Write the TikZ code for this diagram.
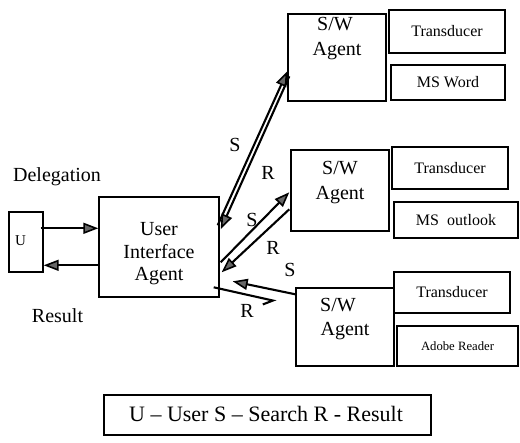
\documentclass[tikz,border=0pt]{standalone}
\usepackage{fontspec}
\setmainfont{Liberation Serif}
\usetikzlibrary{arrows.meta,calc}
\begin{document}
\begin{tikzpicture}[x=1pt,y=-1pt,
  box/.style={draw, line width=1.4pt, inner sep=0pt},
  conn/.style={line width=2.1pt},
  tipped/.style={conn, -{Triangle[length=15pt,width=11pt,fill=gray!80!black,line width=1.6pt]}},
  barbed/.style={conn, -{Straight Barb[length=9pt,width=12pt,right]}},
  big/.style={font=\fontsize{20}{22.5}\selectfont, align=center, inner sep=0pt},
  appfont/.style={font=\fontsize{16}{18}\selectfont},
]
\fill[white] (0,0) rectangle (520,443);
\useasboundingbox (0,0) rectangle (520,443);

% user and interface agent
\node[box, minimum width=34pt, minimum height=60pt] (u) at (26,242) {};
\node[inner sep=0pt, font=\fontsize{15}{17}\selectfont] (utext) at (20.5,241) {U};
\node[box, minimum width=120pt, minimum height=100pt] (uia) at (159,247) {};
\node[big] (uiatext) at (159,254) {User\\Interface\\Agent};

% software agents
\node[box, minimum width=98pt, minimum height=87pt] (sw1) at (337,57.5) {};
\node[big, anchor=base] (sw1a) at (335,31) {S/W};
\node[big, anchor=base] (sw1b) at (337,56) {Agent};
\node[box, minimum width=98pt, minimum height=81pt] (sw2) at (340,190.5) {};
\node[big, anchor=base] (sw2a) at (340,175) {S/W};
\node[big, anchor=base] (sw2b) at (340,200) {Agent};
\node[box, minimum width=98pt, minimum height=78pt] (sw3) at (345,327) {};
\node[big, anchor=base] (sw3a) at (338,312) {S/W};
\node[big, anchor=base] (sw3b) at (345,336) {Agent};

% applications
\node[box, appfont, minimum width=116pt, minimum height=43pt] (tr1) at (447,31.5) {Transducer};
\node[box, appfont, minimum width=114pt, minimum height=35pt] (word) at (448,82.5) {MS Word};
\node[box, appfont, minimum width=116pt, minimum height=42pt] (tr2) at (450,168) {Transducer};
\node[box, appfont, minimum width=124pt, minimum height=36pt] (outlook) at (456,220) {MS\ \ outlook};
\node[box, appfont, minimum width=116pt, minimum height=41pt] (tr3) at (452,292.5) {Transducer};
\node[box, font=\fontsize{12.7}{15}\selectfont, minimum width=121pt, minimum height=40pt] (reader) at (457.5,346) {Adobe Reader};

% side labels
\node[big, anchor=base] (deleg) at (57,182) {Delegation};
\node[big, anchor=base] (result) at (57.5,323) {Result};

% user <-> interface agent
\draw[tipped] ($(u.north east)+(-3,17)$) -- ($(uia.north west)+(0,32)$);
\draw[tipped] ($(uia.north west)+(0,69)$) -- ($(u.north east)+(0,54)$);

% interface agent <-> software agent 1
\draw[tipped] ($(uia.north east)+(-2,29)$) -- ($(sw1.north west)+(0,58)$);
\draw[tipped] ($(sw1.north west)+(2,63)$) -- ($(uia.north east)+(1,33)$);
% interface agent <-> software agent 2
\draw[tipped] ($(uia.north east)+(1,66)$) -- ($(sw2.north west)+(-1,43)$);
\draw[tipped] ($(sw2.north west)+(-1,60)$) -- ($(uia.north east)+(2,76)$);
% interface agent <-> software agent 3
\draw[tipped] ($(sw3.north west)+(0,7)$) -- ($(uia.north east)+(13,85)$);
\draw[barbed] ($(uia.north east)+(-6,91)$) -- ($(sw3.north west)+(-19,14)$);

% connector labels
\node[big] (ls1) at (235,145) {S};
\node[big] (lr2) at (268,173) {R};
\node[big] (ls2) at (252,220) {S};
\node[big] (lr2b) at (273,248) {R};
\node[big] (ls3) at (290,270) {S};
\node[big] (lr3) at (247,311) {R};

% key
\node[box, minimum width=327pt, minimum height=40pt] (key) at (267.5,415) {};
\node[inner sep=0pt, font=\fontsize{22}{24}\selectfont, anchor=base] (keytext) at (266,422) {U -- User S -- Search R - Result};
\end{tikzpicture}
\end{document}
